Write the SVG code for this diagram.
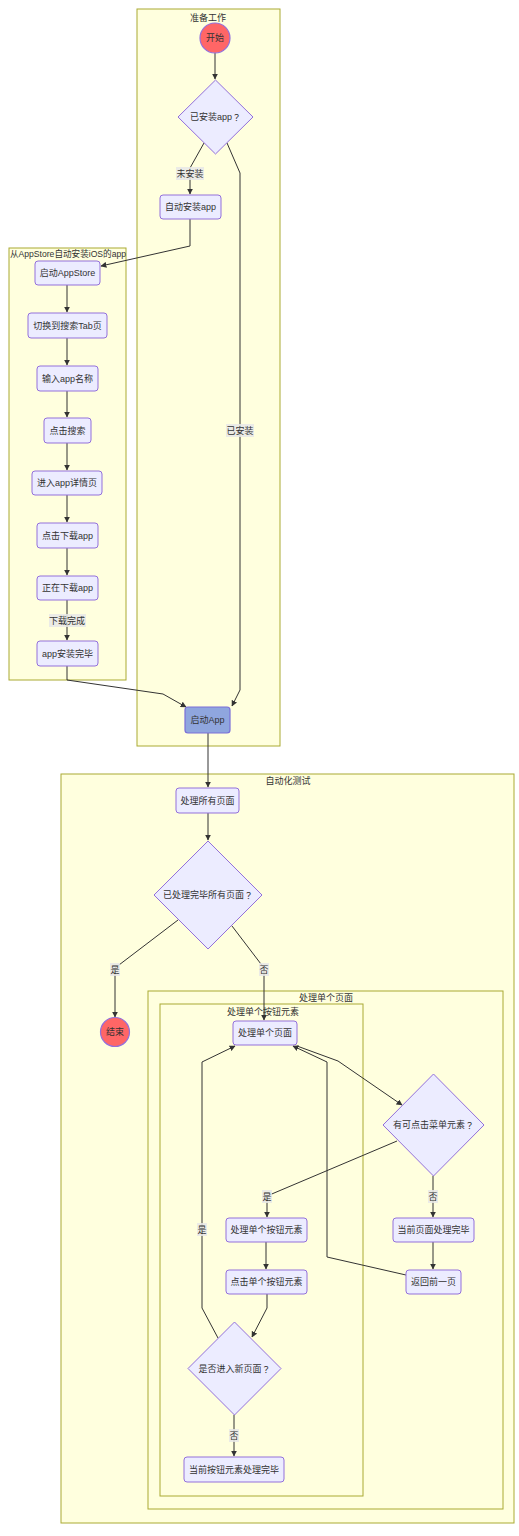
<svg xmlns="http://www.w3.org/2000/svg" width="519" height="1536" viewBox="0 0 519 1536">
<style>
text{font-family:"Liberation Sans","Noto Sans CJK SC",sans-serif;font-size:9px;fill:#333;text-anchor:middle;dominant-baseline:central}
.q{font-family:"Noto Sans CJK TC",sans-serif}
.cluster{fill:#ffffde;stroke:#aaaa33;stroke-width:1}
.node{fill:#ececff;stroke:#9370db;stroke-width:1}
.red{fill:#f66;stroke:#9370db;stroke-width:1.2}
.blue{fill:#8fa6de;stroke:#7a6fd8;stroke-width:1.2}
.edge{fill:none;stroke:#333;stroke-width:1}
.lbl{fill:#e8e8e8;opacity:0.85}
</style>
<defs>
<marker id="arrow" viewBox="0 0 10 10" refX="9" refY="5" markerWidth="6" markerHeight="6" markerUnits="userSpaceOnUse" orient="auto">
<path d="M0,0 L10,5 L0,10 z" fill="#333"/>
</marker>
</defs>
<rect width="519" height="1536" fill="#fff"/>
<g id="clusters">
<g id="cluster-prep"><rect class="cluster" x="137" y="9" width="143" height="737"/><text x="208" y="18">准备工作</text></g>
<g id="cluster-appstore"><rect class="cluster" x="9" y="248" width="117" height="432"/><text x="68" y="254" textLength="116" lengthAdjust="spacingAndGlyphs">从AppStore自动安装iOS的app</text></g>
<g id="cluster-auto"><rect class="cluster" x="61" y="774" width="453" height="749"/><text x="288" y="781">自动化测试</text></g>
<g id="cluster-page"><rect class="cluster" x="148" y="991" width="355" height="518"/><text x="326" y="998">处理单个页面</text></g>
<g id="cluster-button"><rect class="cluster" x="160" y="1004" width="203" height="492"/><text x="263" y="1012">处理单个按钮元素</text></g>
</g>
<g id="connectors">
<path class="edge" d="M215,53 L215,79" marker-end="url(#arrow)"/>
<path class="edge" d="M204,143 L190,168 L190,194" marker-end="url(#arrow)"/>
<path class="edge" d="M227,143 L240,173 L240,690 L232,706" marker-end="url(#arrow)"/>
<path class="edge" d="M190,219 L190,246 L101,266" marker-end="url(#arrow)"/>
<path class="edge" d="M67,285 L67,312" marker-end="url(#arrow)"/>
<path class="edge" d="M67,338 L67,365" marker-end="url(#arrow)"/>
<path class="edge" d="M67,391 L67,417" marker-end="url(#arrow)"/>
<path class="edge" d="M67,443 L67,470" marker-end="url(#arrow)"/>
<path class="edge" d="M67,495 L67,522" marker-end="url(#arrow)"/>
<path class="edge" d="M67,548 L67,575" marker-end="url(#arrow)"/>
<path class="edge" d="M67,600 L67,640" marker-end="url(#arrow)"/>
<path class="edge" d="M67,666 L67,680 L163,694 L186,707" marker-end="url(#arrow)"/>
<path class="edge" d="M208,733 L208,787" marker-end="url(#arrow)"/>
<path class="edge" d="M208,813 L208,840" marker-end="url(#arrow)"/>
<path class="edge" d="M178,920 L115,968 L115,1017" marker-end="url(#arrow)"/>
<path class="edge" d="M232,926 L264,968 L264,1020" marker-end="url(#arrow)"/>
<path class="edge" d="M297,1046 L338,1061 L402,1105" marker-end="url(#arrow)"/>
<path class="edge" d="M397,1141 L267,1196 L267,1217" marker-end="url(#arrow)"/>
<path class="edge" d="M433,1176 L433,1217" marker-end="url(#arrow)"/>
<path class="edge" d="M266,1242 L266,1269" marker-end="url(#arrow)"/>
<path class="edge" d="M433,1242 L433,1269" marker-end="url(#arrow)"/>
<path class="edge" d="M406,1275 L327,1257 L327,1062 L293,1046" marker-end="url(#arrow)"/>
<path class="edge" d="M267,1294 L267,1308 L252,1337" marker-end="url(#arrow)"/>
<path class="edge" d="M218,1338 L202,1308 L202,1062 L235,1046" marker-end="url(#arrow)"/>
<path class="edge" d="M234,1415 L234,1456" marker-end="url(#arrow)"/>
<g id="edge-labels">
<rect class="lbl" x="176" y="167" width="28" height="13"/><text x="190" y="174">未安装</text>
<rect class="lbl" x="226" y="424" width="28" height="13"/><text x="240" y="431">已安装</text>
<rect class="lbl" x="49" y="614" width="37" height="13"/><text x="67" y="621">下载完成</text>
<rect class="lbl" x="110" y="963" width="10" height="13"/><text x="115" y="970">是</text>
<rect class="lbl" x="259" y="963" width="10" height="13"/><text x="264" y="970">否</text>
<rect class="lbl" x="262" y="1190" width="10" height="13"/><text x="267" y="1197">是</text>
<rect class="lbl" x="428" y="1190" width="10" height="13"/><text x="433" y="1197">否</text>
<rect class="lbl" x="197" y="1223" width="10" height="13"/><text x="202" y="1230">是</text>
<rect class="lbl" x="229" y="1429" width="10" height="13"/><text x="234" y="1436">否</text>
</g>
</g>
<g id="n-start"><circle class="red" cx="215" cy="38" r="15"/><text x="215" y="38">开始</text></g>
<g id="n-installed"><polygon class="node" points="215.5,80 253,117 215.5,154 178,117"/><text x="215.5" y="117">已安装app<tspan class="q">？</tspan></text></g>
<g id="n-autoinstall"><rect class="node" x="160" y="195" width="61" height="24" rx="3"/><text x="190.5" y="207">自动安装app</text></g>
<g id="n-launchstore"><rect class="node" x="35" y="261" width="65" height="24" rx="3"/><text x="67.5" y="273">启动AppStore</text></g>
<g id="n-searchtab"><rect class="node" x="28" y="313" width="79" height="25" rx="3"/><text x="67.5" y="325.5">切换到搜索Tab页</text></g>
<g id="n-inputname"><rect class="node" x="37" y="366" width="61" height="25" rx="3"/><text x="67.5" y="378.5">输入app名称</text></g>
<g id="n-clicksearch"><rect class="node" x="44" y="418" width="47" height="25" rx="3"/><text x="67.5" y="430.5">点击搜索</text></g>
<g id="n-detail"><rect class="node" x="32" y="471" width="70" height="24" rx="3"/><text x="67" y="483">进入app详情页</text></g>
<g id="n-clickdl"><rect class="node" x="37" y="523" width="61" height="25" rx="3"/><text x="67.5" y="535.5">点击下载app</text></g>
<g id="n-downloading"><rect class="node" x="37" y="576" width="61" height="24" rx="3"/><text x="67.5" y="588">正在下载app</text></g>
<g id="n-installdone"><rect class="node" x="37" y="641" width="61" height="25" rx="3"/><text x="67.5" y="653.5">app安装完毕</text></g>
<g id="n-launchapp"><rect class="blue" x="185" y="707" width="45" height="26" rx="3"/><text x="207.5" y="720">启动App</text></g>
<g id="n-allpages"><rect class="node" x="176" y="788" width="63" height="25" rx="3"/><text x="207.5" y="800.5">处理所有页面</text></g>
<g id="n-alldone"><polygon class="node" points="208,841 262,895 208,949 154,895"/><text x="208" y="895">已处理完毕所有页面<tspan class="q">？</tspan></text></g>
<g id="n-end"><circle class="red" cx="115" cy="1032" r="14.5"/><text x="115" y="1032">结束</text></g>
<g id="n-page"><rect class="node" x="233" y="1021" width="64" height="24" rx="3"/><text x="265" y="1033">处理单个页面</text></g>
<g id="n-menu"><polygon class="node" points="433.5,1074 484,1125 433.5,1176 383,1125"/><text x="433.5" y="1125">有可点击菜单元素<tspan class="q">？</tspan></text></g>
<g id="n-button"><rect class="node" x="226" y="1218" width="81" height="24" rx="3"/><text x="266.5" y="1230">处理单个按钮元素</text></g>
<g id="n-pagedone"><rect class="node" x="393" y="1218" width="81" height="24" rx="3"/><text x="433.5" y="1230">当前页面处理完毕</text></g>
<g id="n-clickbutton"><rect class="node" x="226" y="1270" width="81" height="24" rx="3"/><text x="266.5" y="1282">点击单个按钮元素</text></g>
<g id="n-back"><rect class="node" x="406" y="1270" width="55" height="24" rx="3"/><text x="433.5" y="1282">返回前一页</text></g>
<g id="n-newpage"><polygon class="node" points="234.5,1322 281,1368.5 234.5,1415 188,1368.5"/><text x="234.5" y="1368.5">是否进入新页面<tspan class="q">？</tspan></text></g>
<g id="n-buttondone"><rect class="node" x="184" y="1457" width="100" height="25" rx="3"/><text x="234" y="1469.5">当前按钮元素处理完毕</text></g>
</svg>
